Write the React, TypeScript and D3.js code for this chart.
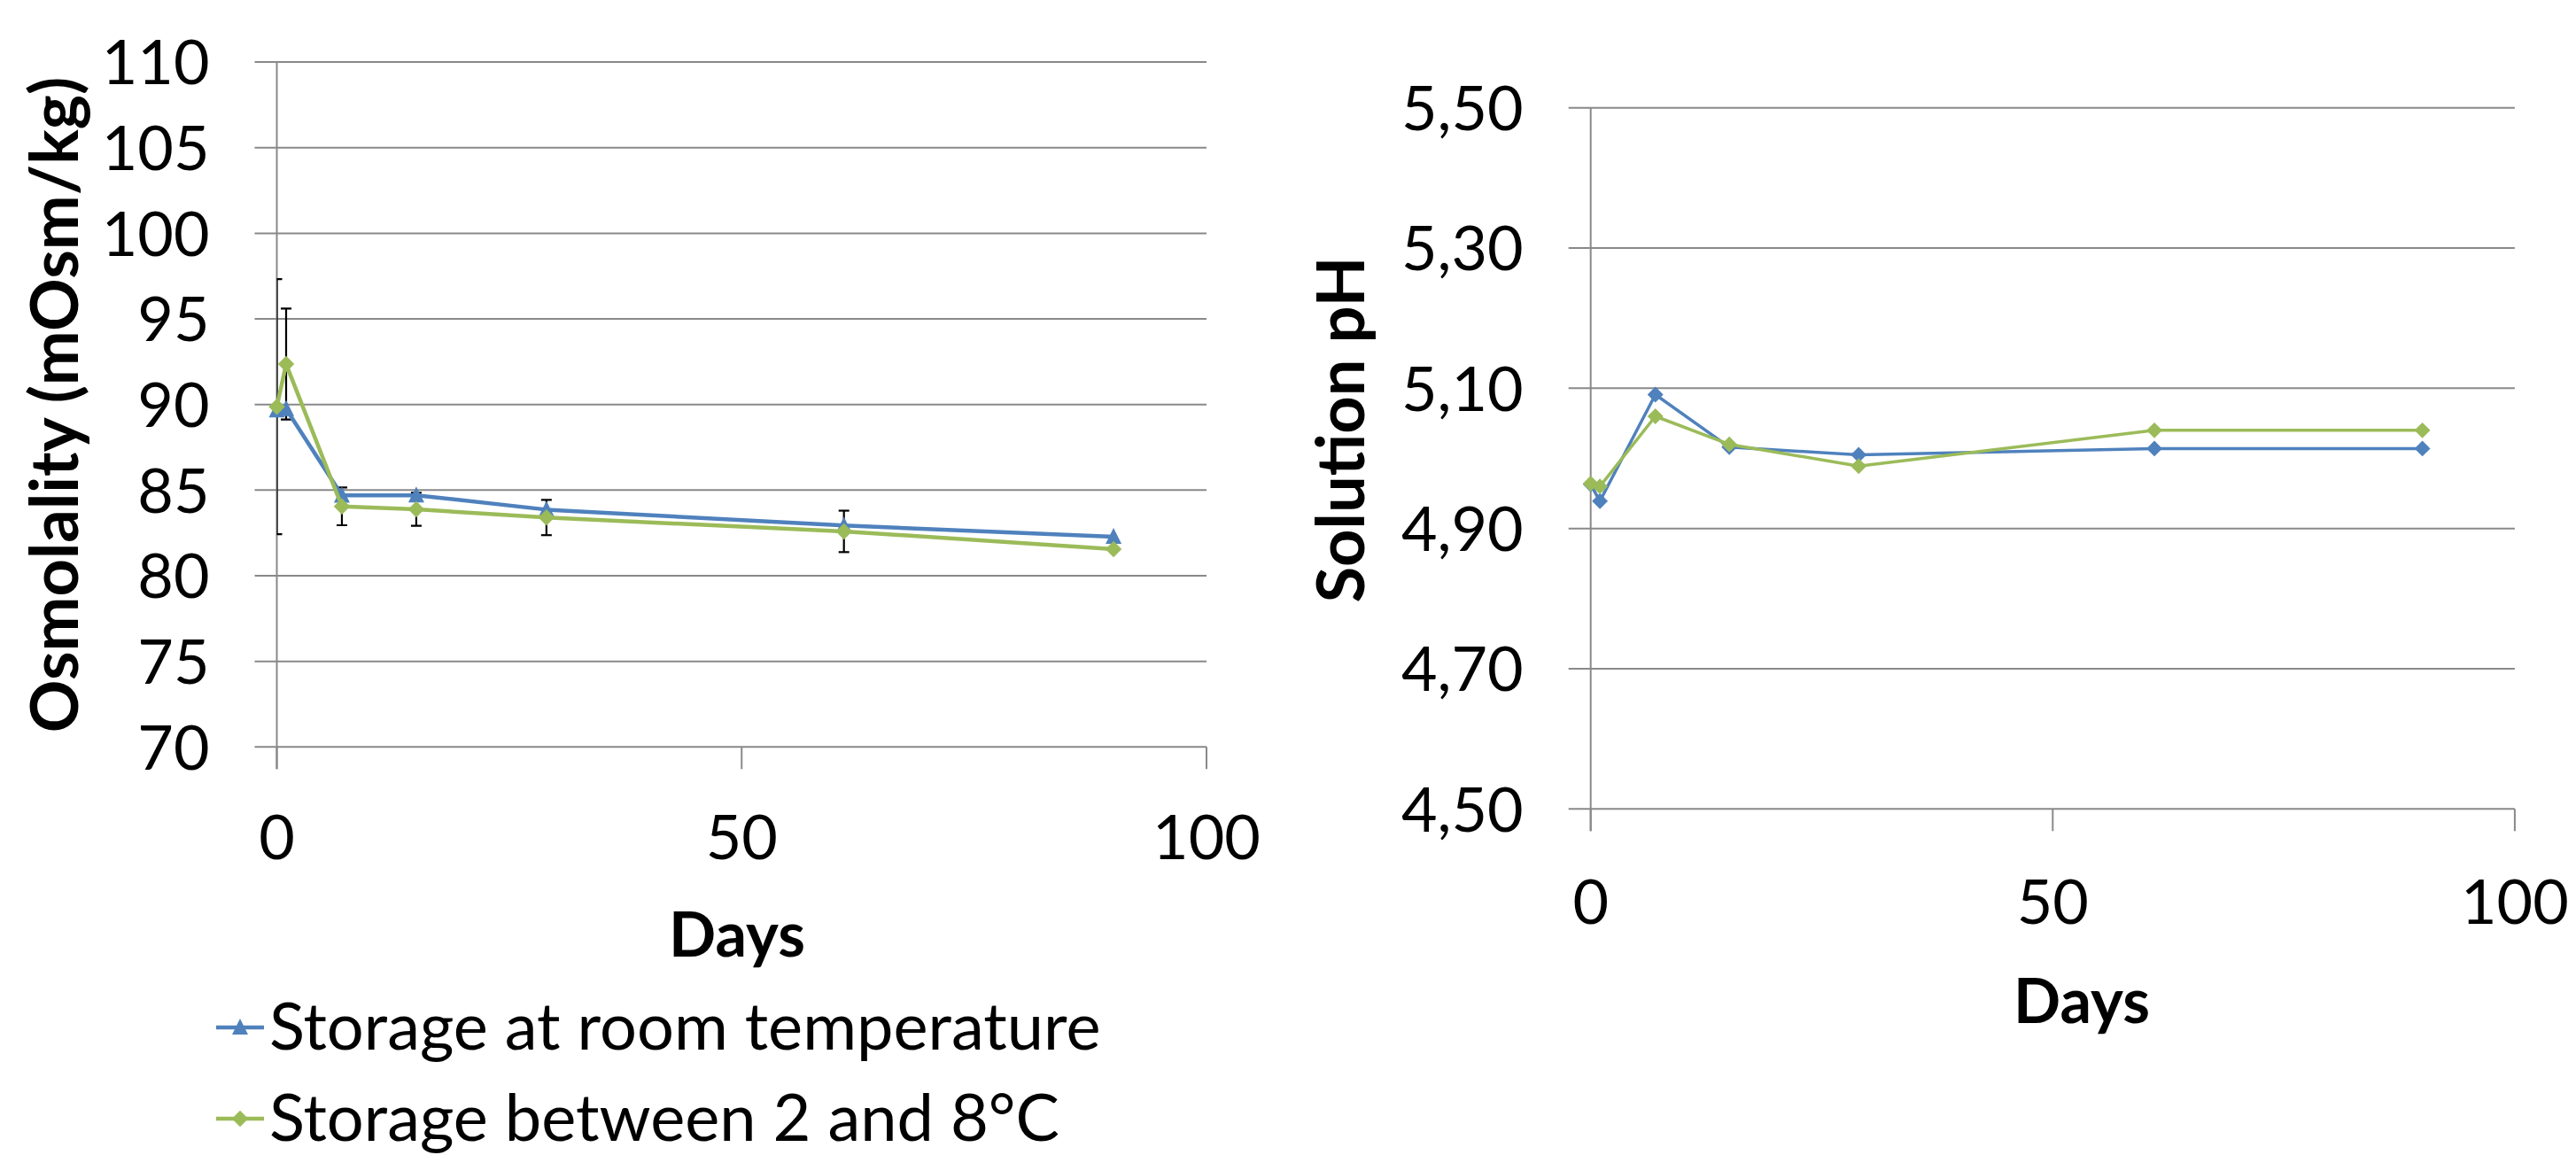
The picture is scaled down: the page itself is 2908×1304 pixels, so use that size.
import React from 'react'
import * as d3 from 'd3'

// sampling days, shared by both panels
const days = [0, 1, 7, 15, 29, 61, 90]

const seriesNames = ['Storage at room temperature', 'Storage between 2 and 8°C']
const colors = ['#4F81BD', '#9BBB59']

const osmoRoom = [89.66, 89.74, 84.69, 84.7, 83.86, 82.93, 82.28]
const osmoCold = [89.87, 92.36, 84.05, 83.88, 83.4, 82.59, 81.55]
const osmoColdErr = [7.45, 3.24, 1.1, 0.96, 1.03, 1.21, 0]

const phRoom = [4.963, 4.939, 5.091, 5.016, 5.005, 5.014, 5.014]
const phCold = [4.964, 4.96, 5.06, 5.02, 4.989, 5.04, 5.04]

const osmoTicks = [70, 75, 80, 85, 90, 95, 100, 105, 110]
const phTicks = [4.5, 4.7, 4.9, 5.1, 5.3, 5.5]
const dayTicks = [0, 50, 100]

const font = 'Lato, "Noto Sans", sans-serif'
const grid = '#898989'

// excel-ish triangle: about as tall as it is wide
const excelTriangle = {
  draw(ctx, size) {
    const w = Math.sqrt(size)
    ctx.moveTo(0, -w * 0.55)
    ctx.lineTo(w / 2, w * 0.45)
    ctx.lineTo(-w / 2, w * 0.45)
    ctx.closePath()
  },
}
const triangle = d3.symbol().type(excelTriangle).size(18 * 18)()
const diamond = (s) => d3.symbol().type(d3.symbolSquare).size(s)()

const Panel = ({ x0, x1, y0, y1, yDomain, yTicks, fmt, series, markers, rotate, lineW, errs, yTitle, titleX, titleY, daysX, daysY, tickLabelY }) => {
  const x = d3.scaleLinear().domain([0, 100]).range([x0, x1])
  const y = d3.scaleLinear().domain(yDomain).range([y1, y0])
  const line = d3.line().x((d) => x(d[0])).y((d) => y(d[1]))
  const clipId = 'clip' + Math.round(x0)

  return (
    <g>
      <defs>
        <clipPath id={clipId}>
          <rect x={x0} y={y0 - 40} width={x1 - x0 + 40} height={y1 - y0 + 80} />
        </clipPath>
      </defs>
      {yTicks.map((t) => (
        <g key={t}>
          <line x1={x0 - 25} x2={x1} y1={y(t)} y2={y(t)} stroke={grid} strokeWidth={2} />
          <text x={x0 - 76} y={y(t)} dy="0.36em" textAnchor="end" fontSize={70} fontFamily={font}>
            {fmt(t)}
          </text>
        </g>
      ))}
      <line x1={x0} x2={x0} y1={y0} y2={y1 + 25} stroke={grid} strokeWidth={2} />
      {dayTicks.map((t) => (
        <g key={t}>
          <line x1={x(t)} x2={x(t)} y1={y1} y2={y1 + 25} stroke={grid} strokeWidth={2} />
          <text x={x(t)} y={tickLabelY} textAnchor="middle" fontSize={70} fontFamily={font}>
            {t}
          </text>
        </g>
      ))}
      {errs && (
        <g clipPath={`url(#${clipId})`} stroke="#000" strokeWidth={2.2}>
          {days.map((d, i) =>
            errs[1][i] > 0 ? (
              <g key={d}>
                <line x1={x(d)} x2={x(d)} y1={y(errs[0][i] - errs[1][i])} y2={y(errs[0][i] + errs[1][i])} />
                <line x1={x(d) - 6} x2={x(d) + 6} y1={y(errs[0][i] - errs[1][i])} y2={y(errs[0][i] - errs[1][i])} />
                <line x1={x(d) - 6} x2={x(d) + 6} y1={y(errs[0][i] + errs[1][i])} y2={y(errs[0][i] + errs[1][i])} />
              </g>
            ) : null
          )}
        </g>
      )}
      {series.map((vals, si) => (
        <g key={si}>
          <path d={line(days.map((d, i) => [d, vals[i]]))} fill="none" stroke={colors[si]} strokeWidth={lineW} strokeLinejoin="round" />
          {days.map((d, i) => (
            <path
              key={d}
              d={markers[si]}
              transform={`translate(${x(d)},${y(vals[i])})${rotate[si] ? ' rotate(45)' : ''}`}
              fill={colors[si]}
            />
          ))}
        </g>
      ))}
      <text
        transform={`translate(${titleX},${titleY}) rotate(-90)`}
        textAnchor="middle"
        fontSize={74}
        fontWeight="bold"
        fontFamily={font}
      >
        {yTitle}
      </text>
      <text x={daysX} y={daysY} textAnchor="middle" fontSize={70} fontWeight="bold" fontFamily={font}>
        Days
      </text>
    </g>
  )
}

const App = () => {
  const fmtComma = (v) => d3.format('.2f')(v).replace('.', ',')
  return (
    <svg width={2908} height={1304} style={{ position: 'absolute', left: 0, top: 0, background: '#fff' }}>
      <Panel
        x0={312.5}
        x1={1362}
        y0={70.1}
        y1={843.3}
        yDomain={[70, 110]}
        yTicks={osmoTicks}
        fmt={(v) => String(v)}
        series={[osmoRoom, osmoCold]}
        markers={[triangle, diamond(170)]}
        rotate={[false, true]}
        lineW={4.5}
        errs={[osmoCold, osmoColdErr]}
        yTitle="Osmolality (mOsm/kg)"
        titleX={88}
        titleY={457}
        daysX={832}
        daysY={1080}
        tickLabelY={970}
      />
      <Panel
        x0={1795.7}
        x1={2838.9}
        y0={121.7}
        y1={913.3}
        yDomain={[4.5, 5.5]}
        yTicks={phTicks}
        fmt={fmtComma}
        series={[phRoom, phCold]}
        markers={[diamond(160), diamond(160)]}
        rotate={[true, true]}
        lineW={3.5}
        yTitle="Solution pH"
        titleX={1540}
        titleY={485}
        daysX={2350}
        daysY={1155}
        tickLabelY={1043}
      />
      {seriesNames.map((name, i) => {
        const ly = 1160 + i * 103
        return (
          <g key={name}>
            <line x1={244} x2={298} y1={ly} y2={ly} stroke={colors[i]} strokeWidth={4.5} />
            <path d={i === 0 ? triangle : diamond(170)} transform={`translate(271,${ly})${i === 0 ? '' : ' rotate(45)'}`} fill={colors[i]} />
            <text x={304} y={ly + 25} fontSize={74} fontFamily={font}>
              {name}
            </text>
          </g>
        )
      })}
    </svg>
  )
}

export default App
